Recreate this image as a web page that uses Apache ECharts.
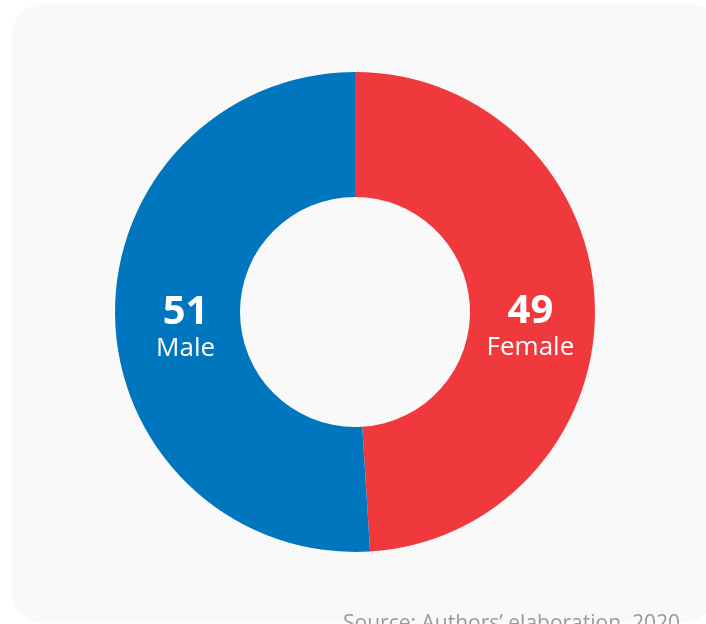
<!DOCTYPE html>
<html>
<head>
<meta charset="utf-8">
<script src="https://cdn.jsdelivr.net/npm/echarts@6/dist/echarts.min.js"></script>
<style>
  html, body { margin: 0; padding: 0; background: #fff; }
  #chart { width: 706px; height: 624px; }
</style>
</head>
<body>
<div id="chart"></div>
<script>
const categories = ["Female", "Male"];
const shares = [49, 51];
const colors = ["#f0393d", "#0076be"];
const sourceNote = "Source: Authors\u2019 elaboration, 2020";

const chart = echarts.init(document.getElementById("chart"));

// nudge the inside labels a bit so they sit where the original put them
const labelPads = [[42, 10, 0, 0], [22, 0, 0, 22]];

const option = {
    animation: false,
    graphic: [
        {
            type: "rect",
            z: -10,
            shape: { x: 12, y: 4, width: 708, height: 619, r: [30, 30, 40, 30] },
            style: { fill: "#f9f9f9" },
        },
        {
            type: "text",
            right: 26,
            top: 614,
            style: {
                text: sourceNote,
                fill: "#9a9a9a",
                font: "21px 'Open Sans'",
            },
        },
    ],
    series: [
        {
            type: "pie",
            center: [355, 312],
            radius: [115, 240],
            startAngle: 90,
            clockwise: true,
            silent: true,
            label: {
                show: true,
                position: "inside",
                formatter: (p) => "{v|" + p.value + "}\n{n|" + p.name + "}",
                rich: {
                    v: {
                        color: "#fff",
                        fontFamily: "'Open Sans'",
                        fontWeight: "bold",
                        fontSize: 40,
                        lineHeight: 40,
                        align: "center",
                    },
                    n: {
                        color: "#fff",
                        fontFamily: "'Open Sans'",
                        fontSize: 26,
                        lineHeight: 32,
                        align: "center",
                    },
                },
            },
            labelLine: { show: false },
            data: categories.map((c, i) => ({
                name: c,
                value: shares[i],
                itemStyle: { color: colors[i] },
                label: { padding: labelPads[i] },
            })),
        },
    ],
};

chart.setOption(option);
</script>
</body>
</html>
